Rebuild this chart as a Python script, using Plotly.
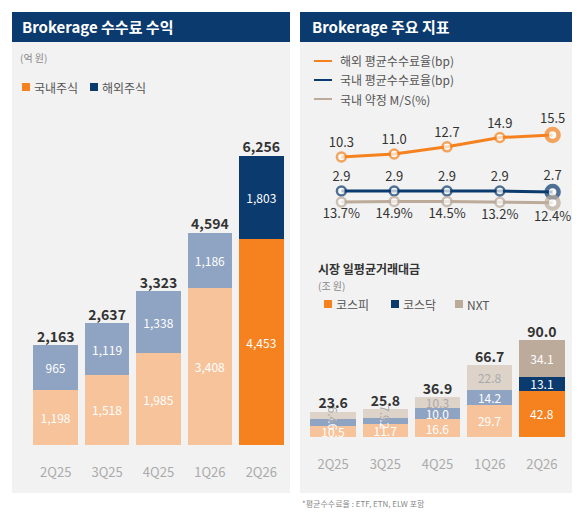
import plotly.graph_objects as go

W, H = 580, 514
FONT = "Noto Sans CJK KR"

quarters = ["2Q25", "3Q25", "4Q25", "1Q26", "2Q26"]
dom_rev = [1198, 1518, 1985, 3408, 4453]
ovs_rev = [965, 1119, 1338, 1186, 1803]
total_rev = [2163, 2637, 3323, 4594, 6256]

ovs_fee = [10.3, 11.0, 12.7, 14.9, 15.5]
dom_fee = [2.9, 2.9, 2.9, 2.9, 2.7]
dom_ms = [13.7, 14.9, 14.5, 13.2, 12.4]

kospi = [10.5, 11.7, 16.6, 29.7, 42.8]
kosdaq = [6.6, 6.2, 10.0, 14.2, 13.1]
nxt = [6.4, 7.9, 10.3, 22.8, 34.1]
total_mkt = [23.6, 25.8, 36.9, 66.7, 90.0]

NAVY = "#0b3a6e"
ORANGE = "#f5821f"
PEACH = "#f7c39b"
GBLUE = "#8fa3c2"
TAN = "#bcab9b"
LTAN = "#ddd3c9"


def px(x):
    return x / W


def py(y):
    return 1 - y / H


fig = go.Figure()

# left: brokerage revenue
fig.add_bar(x=quarters, y=dom_rev, xaxis="x", yaxis="y",
            marker_color=[PEACH] * 4 + [ORANGE], marker_line_width=0,
            text=[f"{v:,}" for v in dom_rev], textposition="inside",
            insidetextanchor="middle", constraintext="none",
            textfont=dict(color="white", size=12))
fig.add_bar(x=quarters, y=ovs_rev, xaxis="x", yaxis="y",
            marker_color=[GBLUE] * 4 + [NAVY], marker_line_width=0,
            text=[f"{v:,}" for v in ovs_rev], textposition="inside",
            insidetextanchor="middle", constraintext="none",
            textfont=dict(color="white", size=12))
fig.add_scatter(x=quarters, y=total_rev, xaxis="x", yaxis="y", mode="text",
                text=[f"<b>{v:,}</b>" for v in total_rev], textposition="top center",
                textfont=dict(size=14, color="#333"), cliponaxis=False)

# right top: fee lines
ldefs = [(ovs_fee, ORANGE, "y2", "top center", "{:.1f}"),
         (dom_fee, NAVY, "y3", "top center", "{:.1f}"),
         (dom_ms, TAN, "y4", "bottom center", "{:.1f}%")]
for vals, col, ya, pos, fmt in ldefs:
    fig.add_scatter(x=quarters, y=vals, xaxis="x2", yaxis=ya, mode="lines+markers+text",
                    line=dict(color=col, width=3),
                    marker=dict(size=[9, 9, 9, 9, 12], color="white",
                                line=dict(color=col, width=[2.5] * 4 + [4.5])),
                    text=[fmt.format(v) for v in vals], textposition=pos,
                    textfont=dict(size=13, color="#333"), cliponaxis=False)

# right bottom: market turnover
for vals, cols, tc in [(kospi, [PEACH] * 4 + [ORANGE], "white"),
                       (kosdaq, [GBLUE] * 4 + [NAVY], "white"),
                       (nxt, [LTAN] * 4 + [TAN], ["#aaa"] * 4 + ["white"])]:
    fig.add_bar(x=quarters, y=vals, xaxis="x3", yaxis="y5",
                marker_color=cols, marker_line_width=0,
                text=[f"{v:.1f}" for v in vals], textposition="inside",
                insidetextanchor="middle", constraintext="none",
                textfont=dict(color=tc, size=12))
fig.add_scatter(x=quarters, y=total_mkt, xaxis="x3", yaxis="y5", mode="text",
                text=[f"<b>{v:.1f}</b>" for v in total_mkt], textposition="top center",
                textfont=dict(size=14, color="#333"), cliponaxis=False)

hid = dict(showgrid=False, zeroline=False, showticklabels=False, showline=False)
xt = dict(showgrid=False, zeroline=False, showline=False, ticks="",
          tickfont=dict(size=13, color="#aaa"), ticklabelstandoff=18)
fig.update_layout(
    width=W, height=H, margin=dict(l=0, r=0, t=0, b=0),
    paper_bgcolor="white", plot_bgcolor="rgba(0,0,0,0)",
    font=dict(family=FONT), showlegend=False, barmode="stack", bargap=0.13,
    xaxis=dict(domain=[px(22), px(279)], **xt),
    yaxis=dict(domain=[py(437), py(110)], range=[0, 7078], **hid),
    xaxis2=dict(domain=[px(307), px(571)], range=[-0.5, 4.5], anchor="y2", **hid),
    yaxis2=dict(domain=[py(205), py(110)], range=[-2.94, 19.52], anchor="x2", **hid),
    yaxis3=dict(range=[-1.5, 17.5], overlaying="y2", **hid),
    yaxis4=dict(range=[-8.3, 181.7], overlaying="y2", **hid),
    xaxis3=dict(domain=[px(299), px(560)], anchor="y5", **xt),
    yaxis5=dict(domain=[py(429), py(300)], range=[0, 119.7], anchor="x3", **hid),
)

P = dict(xref="paper", yref="paper", line_width=0)
shapes = [
    dict(type="rect", x0=px(4), x1=px(282), y0=py(485), y1=py(34), fillcolor="#f2f2f2", layer="below", **P),
    dict(type="rect", x0=px(292), x1=px(576), y0=py(485), y1=py(34), fillcolor="#f2f2f2", layer="below", **P),
    dict(type="rect", x0=px(4), x1=px(282), y0=py(34), y1=py(4), fillcolor=NAVY, **P),
    dict(type="rect", x0=px(292), x1=px(576), y0=py(34), y1=py(4), fillcolor=NAVY, **P),
    dict(type="rect", x0=px(14), x1=px(22), y0=py(83), y1=py(75), fillcolor=ORANGE, **P),
    dict(type="rect", x0=px(82), x1=px(90), y0=py(83), y1=py(75), fillcolor=NAVY, **P),
    dict(type="rect", x0=px(316), x1=px(324), y0=py(300), y1=py(292), fillcolor=ORANGE, **P),
    dict(type="rect", x0=px(383), x1=px(391), y0=py(300), y1=py(292), fillcolor=NAVY, **P),
    dict(type="rect", x0=px(447), x1=px(455), y0=py(300), y1=py(292), fillcolor=TAN, **P),
]
for i, c in enumerate([ORANGE, NAVY, TAN]):
    yy = py(53 + 19 * i)
    shapes.append(dict(type="line", x0=px(306), x1=px(324), y0=yy, y1=yy,
                       xref="paper", yref="paper", line=dict(color=c, width=2)))
fig.update_layout(shapes=shapes)


def ann(x, y, t, size=12, color="#555"):
    fig.add_annotation(x=px(x), y=py(y), xref="paper", yref="paper", text=t, showarrow=False,
                       xanchor="left", yanchor="middle", font=dict(size=size, color=color))


ann(12, 19, "<b>Brokerage 수수료 수익</b>", 15, "white")
ann(302, 19, "<b>Brokerage 주요 지표</b>", 15, "white")
ann(10, 50, "(억 원)", 10, "#888")
ann(24, 79, "국내주식", 12, "#555")
ann(92, 79, "해외주식", 12, "#555")
for i, t in enumerate(["해외 평균수수료율(bp)", "국내 평균수수료율(bp)", "국내 약정 M/S(%)"]):
    ann(330, 53 + 19 * i, t, 12, "#555")
ann(308, 260, "<b>시장 일평균거래대금</b>", 12, "#333")
ann(308, 277, "(조 원)", 10, "#888")
ann(326, 296, "코스피", 12, "#555")
ann(393, 296, "코스닥", 12, "#555")
ann(457, 296, "NXT", 12, "#555")
ann(292, 495, "*평균수수료율 : ETF, ETN, ELW 포함", 8, "#888")

fig.write_html("out.html")
